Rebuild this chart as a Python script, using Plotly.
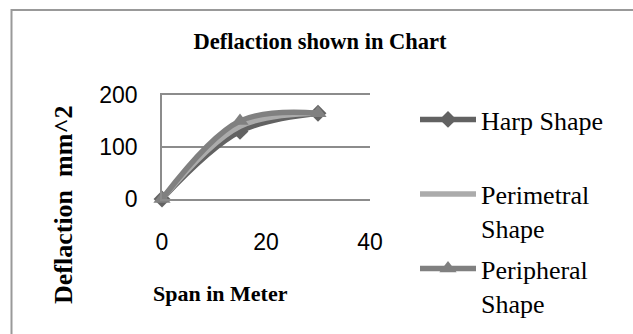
import plotly.graph_objects as go

span = [0, 15, 30]
harp = [0, 130, 165]
perimetral = [0, 140, 165]
peripheral = [0, 150, 165]
names = ["Harp Shape<br> ", "Perimetral<br>Shape", "Peripheral<br>Shape"]
x_ticks = [0, 20, 40]
y_ticks = [0, 100, 200]

W, H = 633, 334
L, R, T, B = 162, 263, 95, 135
pw, ph = W - L - R, H - T - B

def px(x):
    return (x - L) / pw

def py(y):
    return (H - B - y) / ph

fig = go.Figure()
fig.add_trace(go.Scatter(x=span, y=harp, name=names[0], mode="lines+markers",
                         line=dict(color="#626262", width=5.5, shape="spline"),
                         marker=dict(symbol="diamond", size=13, color="#626262"),
                         cliponaxis=False, legendgroup="a"))
fig.add_trace(go.Scatter(x=span, y=perimetral, name=names[1], mode="lines",
                         line=dict(color="#ababab", width=5.5, shape="spline"),
                         cliponaxis=False, legendgroup="b"))
fig.add_trace(go.Scatter(x=span, y=peripheral, name=names[2], mode="lines+markers",
                         line=dict(color="#808080", width=5.5, shape="spline"),
                         marker=dict(symbol="triangle-up", size=15, color="#808080"),
                         cliponaxis=False, legendgroup="c"))

fig.update_layout(
    width=W, height=H,
    margin=dict(l=L, r=R, t=T, b=B),
    paper_bgcolor="white", plot_bgcolor="white",
    title=dict(text="<b>Deflaction shown in Chart</b>", x=320 / W, xref="container",
               y=1 - 41 / H, yref="container", xanchor="center", yanchor="middle",
               font=dict(family="Liberation Serif", size=22.5, color="black")),
    showlegend=True,
    legend=dict(xref="container", yref="container", x=415 / W, y=1 - 96 / H,
                xanchor="left", yanchor="top", valign="top", itemwidth=56,
                tracegroupgap=4, bgcolor="rgba(0,0,0,0)", maxheight=400,
                font=dict(family="Liberation Serif", size=26, color="black")),
    xaxis=dict(range=[0, 40], tickvals=x_ticks, showgrid=False, zeroline=False,
               showline=True, mirror=True, linecolor="#8c8c8c", linewidth=1.5,
               ticks="", ticklabelstandoff=22,
               tickfont=dict(family="Liberation Sans", size=23, color="black")),
    yaxis=dict(range=[0, 200], tickvals=y_ticks, showgrid=True, gridcolor="#8c8c8c",
               gridwidth=1.5, zeroline=False, showline=True, linecolor="#8c8c8c",
               linewidth=1.5, ticks="", ticklabelstandoff=18,
               tickfont=dict(family="Liberation Sans", size=23, color="black")),
    annotations=[
        dict(text="<b>Span in Meter</b>", x=px(220), y=py(293), xref="paper", yref="paper",
             xanchor="center", yanchor="middle", showarrow=False,
             font=dict(family="Liberation Serif", size=22, color="black")),
        dict(text="<b>Deflaction  mm^2</b>", x=px(63), y=py(205), xref="paper", yref="paper",
             xanchor="center", yanchor="middle", showarrow=False, textangle=-90,
             font=dict(family="Liberation Serif", size=26, color="black")),
    ],
    shapes=[dict(type="rect", xref="paper", yref="paper", x0=px(11.5), y0=py(400),
                 x1=px(700), y1=py(10), line=dict(color="#999999", width=2),
                 fillcolor="rgba(0,0,0,0)", layer="below")],
)

fig.write_html("out.html")
